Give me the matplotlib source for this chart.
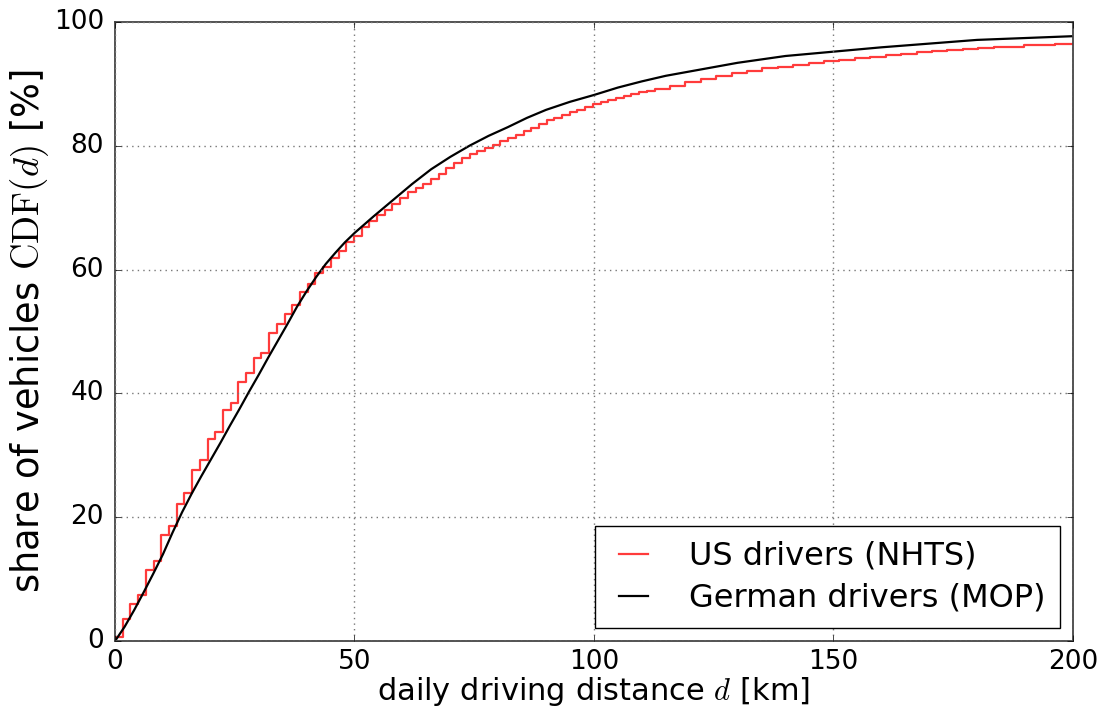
import matplotlib
matplotlib.use('Agg')
import matplotlib.pyplot as plt
import numpy as np

plt.style.use('classic')

MILE_KM = 1.609344

# US drivers (NHTS): empirical CDF at reported whole miles, in %
us_miles = [0, 1, 2, 3, 4, 5, 6, 7, 8, 9, 10, 11, 12, 13, 14, 15, 16, 17, 18, 19,
            20, 21, 22, 23, 24, 25, 26, 27, 28, 29, 30, 31, 32, 33, 34, 35, 36, 37,
            38, 39, 40, 41, 42, 43, 44, 45, 46, 47, 48, 49, 50, 51, 52, 53, 54, 55,
            56, 57, 58, 59, 60, 61, 62, 63, 64, 65, 66, 67, 68, 69, 70, 72, 74, 76,
            78, 80, 82, 84, 86, 88, 90, 92, 94, 96, 98, 100, 102, 104, 106, 108,
            110, 112, 114, 116, 118, 120, 122, 124, 125]
us_cdf = [0.6, 3.5, 6.0, 7.4, 11.5, 12.9, 17.1, 18.6, 22.2, 23.9, 27.6, 29.2, 32.6,
          33.8, 37.3, 38.4, 41.9, 43.3, 45.7, 46.6, 49.7, 51.2, 52.9, 54.2, 56.4,
          57.6, 59.4, 60.4, 61.9, 63.0, 64.5, 65.5, 66.9, 67.8, 68.8, 69.6, 70.6,
          71.6, 72.6, 73.2, 73.9, 74.6, 75.5, 76.4, 77.2, 78.0, 78.6, 79.1, 79.6,
          80.1, 80.8, 81.3, 81.8, 82.4, 82.9, 83.5, 84.1, 84.5, 85.0, 85.4, 85.8,
          86.3, 86.8, 87.1, 87.4, 87.7, 88.0, 88.3, 88.7, 88.9, 89.1, 89.7, 90.3,
          90.8, 91.3, 91.7, 92.1, 92.5, 92.8, 93.1, 93.4, 93.7, 93.9, 94.2, 94.4,
          94.7, 94.9, 95.1, 95.3, 95.5, 95.6, 95.8, 95.9, 96.0, 96.2, 96.3, 96.4,
          96.5, 96.5]

# German drivers (MOP): CDF in %
de_km = [0, 2, 4, 6, 8, 10, 12, 14, 16, 18, 20, 22, 24, 26, 28, 30, 32, 34, 36, 38,
         40, 42, 44, 46, 48, 50, 54, 58, 62, 66, 70, 74, 78, 82, 86, 90, 95, 100,
         105, 110, 115, 120, 125, 130, 140, 150, 160, 170, 180, 190, 200]
de_cdf = [0, 2.3, 5.0, 7.9, 10.9, 14.0, 17.5, 20.8, 23.8, 26.6, 29.3, 32.0, 34.8,
          37.5, 40.3, 43.0, 45.8, 48.5, 51.2, 54.0, 56.5, 58.8, 60.9, 62.7, 64.4,
          65.9, 68.6, 71.2, 73.8, 76.2, 78.2, 80.0, 81.6, 83.0, 84.5, 85.8, 87.1,
          88.2, 89.4, 90.4, 91.3, 92.0, 92.7, 93.4, 94.5, 95.2, 95.9, 96.5, 97.1,
          97.4, 97.7]

us_km = np.array(us_miles) * MILE_KM

fig = plt.figure(figsize=(11.06, 7.08), dpi=100, facecolor='white')
ax = fig.add_axes([0.104, 0.0946, 0.866, 0.8744])
ax.set_facecolor('white')

ax.step(us_km, us_cdf, where='post', color='#ff3b3b', lw=1.6, label='US drivers (NHTS)')
ax.plot(de_km, de_cdf, color='black', lw=1.6, label='German drivers (MOP)')

ax.set_xlim(0, 200)
ax.set_ylim(0, 100)
ax.set_xticks([0, 50, 100, 150, 200])
ax.set_yticks([0, 20, 40, 60, 80, 100])
ax.tick_params(labelsize=19)
ax.tick_params(axis='y', pad=8)
ax.tick_params(axis='x', pad=6)
for sp in ax.spines.values():
    sp.set_color('#444444')
    sp.set_linewidth(1.3)
ax.grid(True, color='#777777', linestyle=':', linewidth=1.0)

ax.set_xlabel(r'daily driving distance $d$ [km]', fontsize=22, labelpad=0)
ax.set_ylabel(r'share of vehicles $\mathrm{CDF}(d)$ [%]', fontsize=26.5, labelpad=2)

leg = ax.legend(loc='lower right', fontsize=23, frameon=True, fancybox=False,
                handlelength=1.5, handletextpad=1.0, borderaxespad=0.4,
                borderpad=0.45, labelspacing=0.35)
leg.get_frame().set_edgecolor('black')

plt.savefig('out.png', dpi=100, facecolor='white')
